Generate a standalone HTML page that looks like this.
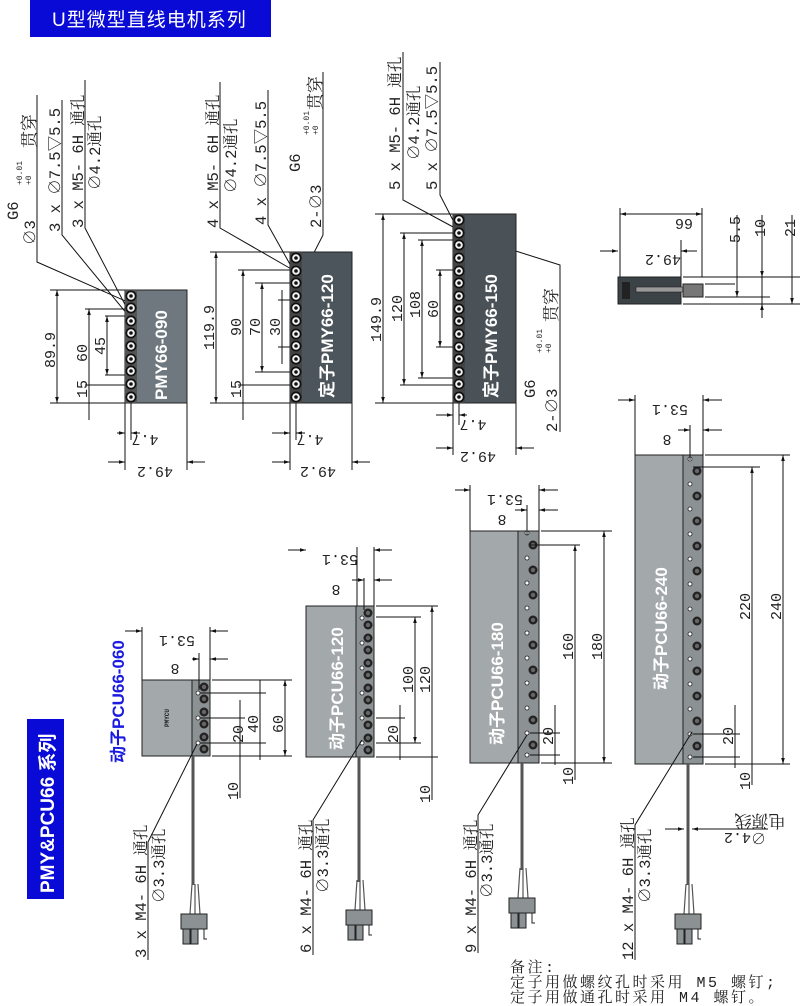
<!DOCTYPE html>
<html><head><meta charset="utf-8"><style>
html,body{margin:0;padding:0;background:#fff;}
svg{display:block}
text{font-family:"Liberation Mono","Noto Serif CJK SC",monospace;fill:#222;}
.d{font-size:15px}
.s{font-size:8px}
.b{font-family:"Liberation Sans","Noto Sans CJK SC",sans-serif;font-weight:bold;fill:#fff}
.u text{text-anchor:middle}
</style></head><body>
<svg width="800" height="1006" viewBox="0 0 800 1006" xmlns="http://www.w3.org/2000/svg">
<defs>
<marker id="a" viewBox="0 0 10 10" refX="10" refY="5" markerWidth="6" markerHeight="6" orient="auto-start-reverse"><path d="M0,2L10,5L0,8z" fill="#111"/></marker>
<g id="sh"><circle r="5.5" fill="#111"/><circle r="3.8" fill="#f2f2f2"/><circle r="1.8" fill="#111"/></g>
<g id="mh"><circle r="4.5" fill="#222"/><circle r="2.2" fill="#666"/></g>
<g id="wh"><circle r="2" fill="#fff" stroke="#222" stroke-width="0.8"/></g>
<g id="con"><path d="M4,-30 L2,0 M10,-30 L12,0 M7,-30 L7,0" stroke="#555" stroke-width="1.2" fill="none"/><rect x="-7" y="0" width="26" height="15" fill="#8c9194" stroke="#222"/><rect x="-5" y="15" width="7" height="15" fill="#8c9194" stroke="#222"/><rect x="3" y="15" width="7" height="15" fill="#8c9194" stroke="#222"/><path d="M16,15 v10 h3" stroke="#222" fill="none"/></g>
</defs>

<rect x="30" y="0" width="241" height="37" fill="#0a0ad6"/>
<text x="52" y="26" style="font-family:'Liberation Sans','Noto Sans CJK SC',sans-serif;font-size:19px;fill:#fff;letter-spacing:1px">U型微型直线电机系列</text>

<g stroke="#111" stroke-width="1" fill="none">
<line x1="50" y1="290" x2="125" y2="290"/><line x1="50" y1="403" x2="125" y2="403"/>
<line x1="57" y1="290" x2="57" y2="403" marker-start="url(#a)" marker-end="url(#a)"/>
<line x1="85" y1="309" x2="128" y2="309"/><line x1="85" y1="385" x2="128" y2="385"/>
<line x1="89" y1="309" x2="89" y2="420" marker-start="url(#a)"/>
<line x1="105" y1="316" x2="130" y2="316"/><line x1="107" y1="316" x2="107" y2="375" marker-start="url(#a)" marker-end="url(#a)"/><line x1="105" y1="375" x2="130" y2="375"/>
<line x1="125" y1="403" x2="125" y2="470"/><line x1="187" y1="403" x2="187" y2="470"/><line x1="131" y1="403" x2="131" y2="440"/>
<line x1="108" y1="462" x2="125" y2="462" marker-end="url(#a)"/><line x1="205" y1="462" x2="187" y2="462" marker-end="url(#a)"/>
<line x1="117" y1="433" x2="125" y2="433" marker-end="url(#a)"/><line x1="140" y1="433" x2="131" y2="433" marker-end="url(#a)"/>
<polyline points="37,95 37,262 130,303"/><polyline points="62,100 62,235 128,315"/><polyline points="85,80 85,228 132,318"/>
<line x1="133" y1="312" x2="150" y2="325"/>

<line x1="210" y1="252" x2="290" y2="252"/><line x1="210" y1="403" x2="290" y2="403"/>
<line x1="216" y1="252" x2="216" y2="403" marker-start="url(#a)" marker-end="url(#a)"/>
<line x1="238" y1="270" x2="292" y2="270"/><line x1="243" y1="270" x2="243" y2="420" marker-start="url(#a)"/><line x1="238" y1="385" x2="292" y2="385"/>
<line x1="255" y1="283" x2="292" y2="283"/><line x1="262" y1="283" x2="262" y2="372" marker-start="url(#a)" marker-end="url(#a)"/><line x1="255" y1="372" x2="292" y2="372"/>
<line x1="278" y1="300" x2="292" y2="300"/><line x1="282" y1="290" x2="282" y2="364"/><line x1="278" y1="347" x2="292" y2="347"/>
<line x1="290" y1="403" x2="290" y2="470"/><line x1="352" y1="403" x2="352" y2="470"/><line x1="296" y1="403" x2="296" y2="440"/>
<line x1="272" y1="462" x2="290" y2="462" marker-end="url(#a)"/><line x1="370" y1="462" x2="352" y2="462" marker-end="url(#a)"/>
<line x1="272" y1="433" x2="290" y2="433" marker-end="url(#a)"/><line x1="305" y1="433" x2="296" y2="433" marker-end="url(#a)"/>
<polyline points="220,82 220,228 293,270"/><polyline points="268,90 268,225 296,275"/><polyline points="323,72 323,235 300,280"/>

<line x1="375" y1="214" x2="453" y2="214"/><line x1="375" y1="403" x2="453" y2="403"/>
<line x1="383" y1="214" x2="383" y2="403" marker-start="url(#a)" marker-end="url(#a)"/>
<line x1="400" y1="233" x2="455" y2="233"/><line x1="404" y1="233" x2="404" y2="385" marker-start="url(#a)" marker-end="url(#a)"/><line x1="400" y1="385" x2="455" y2="385"/>
<line x1="418" y1="240" x2="455" y2="240"/><line x1="422" y1="240" x2="422" y2="378" marker-start="url(#a)" marker-end="url(#a)"/><line x1="418" y1="378" x2="455" y2="378"/>
<line x1="436" y1="270" x2="455" y2="270"/><line x1="440" y1="270" x2="440" y2="347" marker-start="url(#a)" marker-end="url(#a)"/><line x1="436" y1="347" x2="455" y2="347"/>
<line x1="453" y1="403" x2="453" y2="455"/><line x1="516" y1="403" x2="516" y2="455"/><line x1="459" y1="403" x2="459" y2="425"/>
<line x1="436" y1="448" x2="453" y2="448" marker-end="url(#a)"/><line x1="534" y1="448" x2="516" y2="448" marker-end="url(#a)"/>
<line x1="436" y1="415" x2="453" y2="415" marker-end="url(#a)"/><line x1="467" y1="415" x2="459" y2="415" marker-end="url(#a)"/>
<polyline points="403,52 403,200 455,228"/><polyline points="440,62 440,195 458,230"/><polyline points="560,432 560,265 465,235"/>

<line x1="620" y1="208" x2="620" y2="277"/><line x1="702" y1="208" x2="702" y2="277"/>
<line x1="620" y1="214" x2="702" y2="214" marker-start="url(#a)" marker-end="url(#a)"/>
<line x1="600" y1="251" x2="618" y2="251" marker-end="url(#a)"/><line x1="697" y1="251" x2="681" y2="251" marker-end="url(#a)"/><line x1="681" y1="240" x2="681" y2="277"/>
<line x1="683" y1="277" x2="800" y2="277"/><line x1="705" y1="284" x2="735" y2="284"/><line x1="705" y1="297" x2="770" y2="297"/><line x1="683" y1="304" x2="800" y2="304"/>
<line x1="737" y1="215" x2="737" y2="297" marker-end="url(#a)"/>
<line x1="762" y1="215" x2="762" y2="314" /><line x1="762" y1="262" x2="762" y2="277" marker-end="url(#a)"/><line x1="762" y1="318" x2="762" y2="304" marker-end="url(#a)"/>
<line x1="792" y1="215" x2="792" y2="304" marker-end="url(#a)"/>
</g>

<rect x="125" y="290" width="62" height="113" fill="#6e787e" stroke="#222"/>
<rect x="290" y="252" width="62" height="151" fill="#4c555b" stroke="#222"/>
<rect x="453" y="214" width="63" height="189" fill="#4a5257" stroke="#222"/>
<rect x="125" y="290" width="12" height="113" fill="#555"/>
<rect x="290" y="252" width="12" height="151" fill="#444"/>
<rect x="453" y="214" width="12" height="189" fill="#444"/>
<g>
<use href="#sh" x="131" y="296"/><use href="#sh" x="131" y="308"/><use href="#sh" x="131" y="321"/><use href="#sh" x="131" y="333"/><use href="#sh" x="131" y="346"/><use href="#sh" x="131" y="359"/><use href="#sh" x="131" y="371"/><use href="#sh" x="131" y="384"/><use href="#sh" x="131" y="397"/>
<use href="#sh" x="296" y="258"/><use href="#sh" x="296" y="271"/><use href="#sh" x="296" y="283"/><use href="#sh" x="296" y="296"/><use href="#sh" x="296" y="308"/><use href="#sh" x="296" y="321"/><use href="#sh" x="296" y="334"/><use href="#sh" x="296" y="346"/><use href="#sh" x="296" y="359"/><use href="#sh" x="296" y="372"/><use href="#sh" x="296" y="384"/><use href="#sh" x="296" y="397"/>
<use href="#sh" x="459" y="220"/><use href="#sh" x="459" y="233"/><use href="#sh" x="459" y="245"/><use href="#sh" x="459" y="258"/><use href="#sh" x="459" y="271"/><use href="#sh" x="459" y="283"/><use href="#sh" x="459" y="296"/><use href="#sh" x="459" y="309"/><use href="#sh" x="459" y="321"/><use href="#sh" x="459" y="334"/><use href="#sh" x="459" y="347"/><use href="#sh" x="459" y="359"/><use href="#sh" x="459" y="372"/><use href="#sh" x="459" y="384"/><use href="#sh" x="459" y="397"/>
</g>
<text class="b" font-size="17" transform="translate(167,400) rotate(-90)">PMY66-090</text>
<text class="b" font-size="17" transform="translate(333,398) rotate(-90)">定子PMY66-120</text>
<text class="b" font-size="17" transform="translate(497,398) rotate(-90)">定子PMY66-150</text>

<rect x="618" y="277" width="63" height="27" fill="#3c4347" stroke="#222"/>
<rect x="622" y="282" width="8" height="17" fill="#222"/>
<rect x="636" y="287" width="56" height="5" fill="#999" stroke="#222" stroke-width="0.6"/>
<rect x="683" y="284" width="20" height="13" fill="#777" stroke="#222"/>

<g stroke="#222">
<rect x="142" y="680" width="50" height="76" fill="#a3a8ab"/><rect x="192" y="680" width="18" height="76" fill="#8c9194"/>
<rect x="306" y="606" width="50" height="151" fill="#a3a8ab"/><rect x="356" y="606" width="18" height="151" fill="#8c9194"/>
<rect x="470" y="531" width="48" height="232" fill="#a3a8ab"/><rect x="518" y="531" width="21" height="232" fill="#8c9194"/>
<rect x="635" y="455" width="48" height="309" fill="#a3a8ab"/><rect x="683" y="455" width="20" height="309" fill="#8c9194"/>
</g>
<g>
<use href="#mh" x="204" y="687"/><use href="#mh" x="204" y="699"/><use href="#mh" x="204" y="712"/><use href="#mh" x="204" y="724"/><use href="#mh" x="204" y="737"/><use href="#mh" x="204" y="749"/>
<use href="#wh" x="198" y="693"/><use href="#wh" x="198" y="718"/><use href="#wh" x="198" y="743"/>
<use href="#mh" x="368" y="613"/><use href="#mh" x="368" y="625"/><use href="#mh" x="368" y="638"/><use href="#mh" x="368" y="650"/><use href="#mh" x="368" y="663"/><use href="#mh" x="368" y="675"/><use href="#mh" x="368" y="688"/><use href="#mh" x="368" y="700"/><use href="#mh" x="368" y="713"/><use href="#mh" x="368" y="725"/><use href="#mh" x="368" y="738"/><use href="#mh" x="368" y="750"/>
<use href="#wh" x="362" y="618"/><use href="#wh" x="362" y="643"/><use href="#wh" x="362" y="668"/><use href="#wh" x="362" y="693"/><use href="#wh" x="362" y="718"/><use href="#wh" x="362" y="743"/>
<use href="#mh" x="533" y="545"/><use href="#mh" x="533" y="570"/><use href="#mh" x="533" y="595"/><use href="#mh" x="533" y="620"/><use href="#mh" x="533" y="645"/><use href="#mh" x="533" y="670"/><use href="#mh" x="533" y="695"/><use href="#mh" x="533" y="720"/><use href="#mh" x="533" y="745"/>
<use href="#wh" x="527" y="533"/><use href="#wh" x="527" y="558"/><use href="#wh" x="527" y="583"/><use href="#wh" x="527" y="608"/><use href="#wh" x="527" y="633"/><use href="#wh" x="527" y="658"/><use href="#wh" x="527" y="683"/><use href="#wh" x="527" y="708"/><use href="#wh" x="527" y="733"/><use href="#wh" x="527" y="755"/>
<use href="#mh" x="697" y="471"/><use href="#mh" x="697" y="496"/><use href="#mh" x="697" y="521"/><use href="#mh" x="697" y="546"/><use href="#mh" x="697" y="571"/><use href="#mh" x="697" y="596"/><use href="#mh" x="697" y="621"/><use href="#mh" x="697" y="646"/><use href="#mh" x="697" y="671"/><use href="#mh" x="697" y="696"/><use href="#mh" x="697" y="721"/><use href="#mh" x="697" y="746"/>
<use href="#wh" x="690" y="459"/><use href="#wh" x="690" y="484"/><use href="#wh" x="690" y="509"/><use href="#wh" x="690" y="534"/><use href="#wh" x="690" y="559"/><use href="#wh" x="690" y="584"/><use href="#wh" x="690" y="609"/><use href="#wh" x="690" y="634"/><use href="#wh" x="690" y="659"/><use href="#wh" x="690" y="684"/><use href="#wh" x="690" y="709"/><use href="#wh" x="690" y="734"/><use href="#wh" x="690" y="757"/>
</g>
<text class="b" font-size="17" transform="translate(343,750) rotate(-90)">动子PCU66-120</text>
<text class="b" font-size="17" transform="translate(503,745) rotate(-90)">动子PCU66-180</text>
<text class="b" font-size="17" transform="translate(667,690) rotate(-90)">动子PCU66-240</text>
<text transform="translate(169,727) rotate(-90)" style="font-size:6px;font-weight:bold">PMYCU</text>

<g stroke="#555" stroke-width="3"><line x1="193" y1="756" x2="193" y2="885"/><line x1="359" y1="757" x2="359" y2="882"/><line x1="522" y1="763" x2="522" y2="870"/><line x1="688" y1="764" x2="688" y2="885"/></g>
<use href="#con" x="188" y="914"/><use href="#con" x="353" y="910"/><use href="#con" x="516" y="898"/><use href="#con" x="682" y="914"/>

<g stroke="#111" stroke-width="1" fill="none">
<line x1="142" y1="627" x2="142" y2="680"/><line x1="210" y1="627" x2="210" y2="680"/><line x1="125" y1="631" x2="142" y2="631" marker-end="url(#a)"/><line x1="228" y1="631" x2="210" y2="631" marker-end="url(#a)"/>
<line x1="199" y1="653" x2="199" y2="690"/><line x1="192" y1="659" x2="199" y2="659" marker-end="url(#a)"/><line x1="228" y1="659" x2="210" y2="659" marker-end="url(#a)"/>
<line x1="212" y1="680" x2="292" y2="680"/><line x1="212" y1="756" x2="292" y2="756"/><line x1="285" y1="680" x2="285" y2="756" marker-start="url(#a)" marker-end="url(#a)"/>
<line x1="200" y1="693" x2="266" y2="693"/><line x1="200" y1="743" x2="266" y2="743"/><line x1="260" y1="680" x2="260" y2="760" />
<line x1="200" y1="718" x2="245" y2="718"/><line x1="240" y1="700" x2="240" y2="798"/>
<line x1="357" y1="547" x2="357" y2="606"/><line x1="374" y1="547" x2="374" y2="606"/><line x1="288" y1="550" x2="306" y2="550" marker-end="url(#a)"/><line x1="392" y1="550" x2="374" y2="550" marker-end="url(#a)"/>
<line x1="364" y1="578" x2="364" y2="610"/><line x1="352" y1="580" x2="364" y2="580" marker-end="url(#a)"/><line x1="392" y1="580" x2="374" y2="580" marker-end="url(#a)"/>
<line x1="376" y1="606" x2="438" y2="606"/><line x1="376" y1="757" x2="438" y2="757"/><line x1="432" y1="606" x2="432" y2="800" marker-start="url(#a)"/>
<line x1="376" y1="617" x2="421" y2="617"/><line x1="415" y1="617" x2="415" y2="743" marker-start="url(#a)" marker-end="url(#a)"/><line x1="376" y1="743" x2="421" y2="743"/>
<line x1="376" y1="718" x2="405" y2="718"/><line x1="400" y1="705" x2="400" y2="760"/>
<line x1="470" y1="485" x2="470" y2="531"/><line x1="539" y1="485" x2="539" y2="531"/><line x1="455" y1="490" x2="470" y2="490" marker-end="url(#a)"/><line x1="558" y1="490" x2="539" y2="490" marker-end="url(#a)"/>
<line x1="527" y1="505" x2="527" y2="535"/><line x1="515" y1="510" x2="527" y2="510" marker-end="url(#a)"/><line x1="558" y1="510" x2="539" y2="510" marker-end="url(#a)"/>
<line x1="541" y1="531" x2="612" y2="531"/><line x1="541" y1="763" x2="612" y2="763"/><line x1="604" y1="531" x2="604" y2="763" marker-start="url(#a)" marker-end="url(#a)"/>
<line x1="530" y1="545" x2="580" y2="545"/><line x1="575" y1="545" x2="575" y2="780" marker-start="url(#a)"/>
<line x1="530" y1="733" x2="560" y2="733"/><line x1="530" y1="755" x2="560" y2="755"/><line x1="555" y1="705" x2="555" y2="765"/>
<line x1="635" y1="395" x2="635" y2="455"/><line x1="703" y1="395" x2="703" y2="455"/><line x1="618" y1="400" x2="635" y2="400" marker-end="url(#a)"/><line x1="722" y1="400" x2="703" y2="400" marker-end="url(#a)"/>
<line x1="690" y1="425" x2="690" y2="460"/><line x1="678" y1="430" x2="690" y2="430" marker-end="url(#a)"/><line x1="722" y1="430" x2="703" y2="430" marker-end="url(#a)"/>
<line x1="705" y1="455" x2="790" y2="455"/><line x1="705" y1="764" x2="790" y2="764"/><line x1="783" y1="455" x2="783" y2="764" marker-start="url(#a)" marker-end="url(#a)"/>
<line x1="693" y1="467" x2="760" y2="467"/><line x1="752" y1="467" x2="752" y2="785" marker-start="url(#a)"/>
<line x1="693" y1="734" x2="740" y2="734"/><line x1="693" y1="757" x2="740" y2="757"/><line x1="735" y1="705" x2="735" y2="768"/>
<line x1="665" y1="829" x2="684" y2="829" marker-end="url(#a)"/><line x1="706" y1="829" x2="692" y2="829" marker-end="url(#a)"/><line x1="692" y1="829" x2="768" y2="829"/>
<polyline points="148,960 148,842 197,744"/><polyline points="313,955 313,820 362,740"/><polyline points="478,953 478,815 527,735"/><polyline points="635,960 635,825 692,732"/>
</g>

<rect x="27" y="719" width="37" height="180" fill="#0a0ad6"/>
<text class="b" font-size="19" transform="translate(54,893) rotate(-90)">PMY&amp;PCU66 系列</text>
<text transform="translate(124,763) rotate(-90)" style="font-family:'Liberation Sans','Noto Sans CJK SC',sans-serif;font-weight:bold;font-size:17px;fill:#1a1ae0">动子PCU66-060</text>

<g class="d">
<text transform="translate(55,368) rotate(-90)">89.9</text>
<text transform="translate(87,362) rotate(-90)">60</text>
<text transform="translate(105,355) rotate(-90)">45</text>
<text transform="translate(87,398) rotate(-90)">15</text>
<text transform="translate(214,350) rotate(-90)">119.9</text>
<text transform="translate(241,336) rotate(-90)">90</text>
<text transform="translate(260,336) rotate(-90)">70</text>
<text transform="translate(280,336) rotate(-90)">30</text>
<text transform="translate(241,398) rotate(-90)">15</text>
<text transform="translate(381,342) rotate(-90)">149.9</text>
<text transform="translate(402,322) rotate(-90)">120</text>
<text transform="translate(420,318) rotate(-90)">108</text>
<text transform="translate(438,318) rotate(-90)">60</text>
<text transform="translate(740,243) rotate(-90)">5.5</text>
<text transform="translate(765,237) rotate(-90)">10</text>
<text transform="translate(795,237) rotate(-90)">21</text>
<text transform="translate(243,743) rotate(-90)">20</text>
<text transform="translate(258,733) rotate(-90)">40</text>
<text transform="translate(283,733) rotate(-90)">60</text>
<text transform="translate(238,800) rotate(-90)">10</text>
<text transform="translate(398,743) rotate(-90)">20</text>
<text transform="translate(413,693) rotate(-90)">100</text>
<text transform="translate(430,693) rotate(-90)">120</text>
<text transform="translate(430,803) rotate(-90)">10</text>
<text transform="translate(553,745) rotate(-90)">20</text>
<text transform="translate(573,660) rotate(-90)">160</text>
<text transform="translate(602,660) rotate(-90)">180</text>
<text transform="translate(573,785) rotate(-90)">10</text>
<text transform="translate(733,745) rotate(-90)">20</text>
<text transform="translate(750,620) rotate(-90)">220</text>
<text transform="translate(781,620) rotate(-90)">240</text>
<text transform="translate(750,790) rotate(-90)">10</text>
</g>
<g class="d u">
<text transform="translate(145,435) rotate(180)">4.7</text>
<text transform="translate(155,467) rotate(180)">49.2</text>
<text transform="translate(310,435) rotate(180)">4.7</text>
<text transform="translate(318,467) rotate(180)">49.2</text>
<text transform="translate(473,420) rotate(180)">4.7</text>
<text transform="translate(478,452) rotate(180)">49.2</text>
<text transform="translate(684,219) rotate(180)">66</text>
<text transform="translate(663,255) rotate(180)">49.2</text>
<text transform="translate(177,636) rotate(180)">53.1</text>
<text transform="translate(175,664) rotate(180)">8</text>
<text transform="translate(340,555) rotate(180)">53.1</text>
<text transform="translate(336,585) rotate(180)">8</text>
<text transform="translate(505,495) rotate(180)">53.1</text>
<text transform="translate(502,515) rotate(180)">8</text>
<text transform="translate(670,405) rotate(180)">53.1</text>
<text transform="translate(667,435) rotate(180)">8</text>
<text transform="translate(745,833) rotate(180)">∅4.2</text>
<text transform="translate(760,815) rotate(180)" style="font-size:17px">电源线</text>
</g>

<g style="font-size:15.5px">
<text transform="translate(35,245) rotate(-90)">∅3</text>
<text transform="translate(18,220) rotate(-90)">G6</text>
<text class="s" transform="translate(22,185) rotate(-90)">+0.01</text>
<text class="s" transform="translate(31,185) rotate(-90)">+0</text>
<text transform="translate(35,148) rotate(-90)" style="font-size:17px">贯穿</text>
<text transform="translate(60,232) rotate(-90)">3 x ∅7.5▽5.5</text>
<text transform="translate(83,228) rotate(-90)">3 x M5- 6H 通孔</text>
<text transform="translate(100,190) rotate(-90)">∅4.2通孔</text>
<text transform="translate(218,228) rotate(-90)">4 x M5- 6H 通孔</text>
<text transform="translate(236,193) rotate(-90)">∅4.2通孔</text>
<text transform="translate(266,225) rotate(-90)">4 x ∅7.5▽5.5</text>
<text transform="translate(300,172) rotate(-90)">G6</text>
<text class="s" transform="translate(309,135) rotate(-90)">+0.01</text>
<text class="s" transform="translate(318,135) rotate(-90)">+0</text>
<text transform="translate(321,110) rotate(-90)" style="font-size:17px">贯穿</text>
<text transform="translate(321,228) rotate(-90)">2-∅3</text>
<text transform="translate(400,190) rotate(-90)">5 x M5- 6H 通孔</text>
<text transform="translate(419,160) rotate(-90)">∅4.2通孔</text>
<text transform="translate(437,190) rotate(-90)">5 x ∅7.5▽5.5</text>
<text transform="translate(535,398) rotate(-90)">G6</text>
<text class="s" transform="translate(542,353) rotate(-90)">+0.01</text>
<text class="s" transform="translate(551,353) rotate(-90)">+0</text>
<text transform="translate(557,322) rotate(-90)" style="font-size:17px">贯穿</text>
<text transform="translate(557,432) rotate(-90)">2-∅3</text>
<text transform="translate(146,958) rotate(-90)">3 x M4- 6H 通孔</text>
<text transform="translate(164,903) rotate(-90)">∅3.3通孔</text>
<text transform="translate(311,953) rotate(-90)">6 x M4- 6H 通孔</text>
<text transform="translate(328,893) rotate(-90)">∅3.3通孔</text>
<text transform="translate(476,953) rotate(-90)">9 x M4- 6H 通孔</text>
<text transform="translate(492,898) rotate(-90)">∅3.3通孔</text>
<text transform="translate(633,960) rotate(-90)">12 x M4- 6H 通孔</text>
<text transform="translate(650,903) rotate(-90)">∅3.3通孔</text>
</g>

<g style="font-size:15px;letter-spacing:2.5px">
<text x="510" y="972">备注:</text>
<text x="510" y="987">定子用做螺纹孔时采用 M5 螺钉;</text>
<text x="510" y="1002">定子用做通孔时采用 M4 螺钉。</text>
</g>
</svg>
</body></html>
